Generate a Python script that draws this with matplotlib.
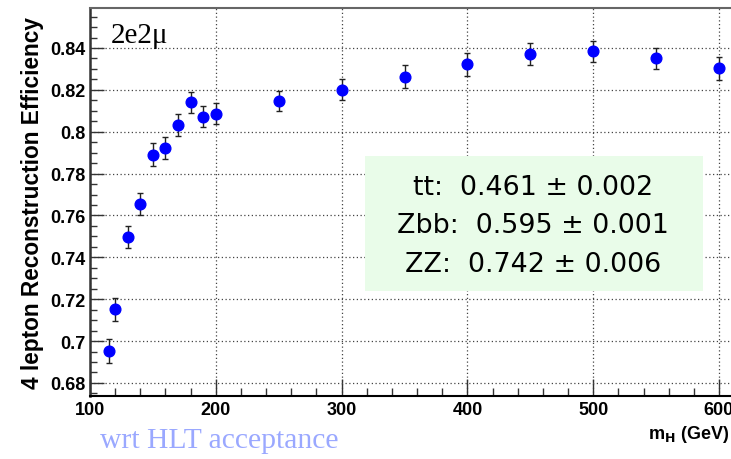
import matplotlib
matplotlib.use("Agg")
import matplotlib.pyplot as plt
from matplotlib.ticker import MultipleLocator, FuncFormatter
from matplotlib.patches import Rectangle

# Data
mass = [115, 120, 130, 140, 150, 160, 170, 180, 190, 200, 250, 300, 350, 400, 450, 500, 550, 600]
eff = [0.6951, 0.7153, 0.7497, 0.7655, 0.7891, 0.7924, 0.8031, 0.8141, 0.8071, 0.8086,
       0.8146, 0.8200, 0.8263, 0.8322, 0.8371, 0.8384, 0.8351, 0.8303]
err = [0.0057, 0.0055, 0.0053, 0.0053, 0.0053, 0.0053, 0.0052, 0.0050, 0.0050, 0.0050,
       0.0048, 0.0050, 0.0055, 0.0055, 0.0051, 0.0050, 0.0051, 0.0055]
box_lines = ["tt:  0.461 \u00b1 0.002", "Zbb:  0.595 \u00b1 0.001", "ZZ:  0.742 \u00b1 0.006"]

W, H = 731, 460
fig = plt.figure(figsize=(W / 100, H / 100), dpi=100)
fig.patch.set_facecolor("white")

px = 1.258  # pixels per GeV
xmin, xmax = 100, 620
left, right_px = 90, 90 + (xmax - xmin) * px
top, bottom = 9, 396.7
ax = fig.add_axes([left / W, 1 - bottom / H, (right_px - left) / W, (bottom - top) / H])
ax.set_xlim(xmin, xmax)
ax.set_ylim(0.6739, 0.8591)

ax.errorbar(mass, eff, yerr=err, fmt="o", color="#0000ff", markersize=7.7,
            ecolor="#222222", elinewidth=1, capsize=2.5, capthick=1, zorder=3)

ax.xaxis.set_major_locator(MultipleLocator(100))
ax.xaxis.set_minor_locator(MultipleLocator(20))
ax.yaxis.set_major_locator(MultipleLocator(0.02))
ax.yaxis.set_minor_locator(MultipleLocator(0.005))
ax.yaxis.set_major_formatter(FuncFormatter(lambda v, p: ("%g" % round(v, 3))))
ax.xaxis.set_major_formatter(FuncFormatter(lambda v, p: "%d" % round(v)))

ax.tick_params(which="both", direction="in", top=False, right=False, color="#333333", width=1)
ax.tick_params(which="major", length=10, labelsize=13, pad=3.5)
ax.tick_params(axis="x", which="major", length=12)
ax.tick_params(which="minor", length=5)
ax.tick_params(axis="x", which="minor", length=6)
for lab in ax.get_xticklabels() + ax.get_yticklabels():
    lab.set_fontweight("bold")
    lab.set_fontfamily("Liberation Sans")

ax.grid(True, which="major", color="#444444", linestyle=(0, (1, 2)), linewidth=0.9, zorder=0)

ax.spines["left"].set_linewidth(1.8)
ax.spines["left"].set_color("#333333")
ax.spines["bottom"].set_linewidth(1.5)
ax.spines["bottom"].set_color("black")
ax.spines["top"].set_linewidth(1.5)
ax.spines["top"].set_color("#666666")
ax.spines["right"].set_visible(False)

ax.set_ylabel("4 lepton Reconstruction Efficiency", fontsize=16.3, fontweight="bold",
              family="Liberation Sans", labelpad=4)

# x label
fig.text(729 / W, 1 - 435 / H, r"m$_{\mathbf{H}}$ (GeV)", fontsize=13, fontweight="bold",
         family="Liberation Sans", ha="right", va="center")

# channel label
fig.text(111 / W, 1 - 36 / H, "2e2\u03bc", fontsize=21, family="Liberation Serif",
         ha="left", va="center")

# wrt HLT acceptance
fig.text(100 / W, 1 - 441 / H, "wrt HLT acceptance", fontsize=21.3, family="Liberation Serif",
         color="#9aa8ff", ha="left", va="center")

# green box
box = Rectangle((365 / W, 1 - 292 / H), (703 - 365) / W, (292 - 157) / H,
                transform=fig.transFigure, facecolor="#e9fce9", edgecolor="none", zorder=5)
fig.patches.append(box)
for i, line in enumerate(box_lines):
    fig.text(533 / W, 1 - (188 + 38.5 * i) / H, line, fontsize=19.4, family="DejaVu Sans",
             ha="center", va="center", zorder=6)

fig.savefig("out.png", dpi=100)
